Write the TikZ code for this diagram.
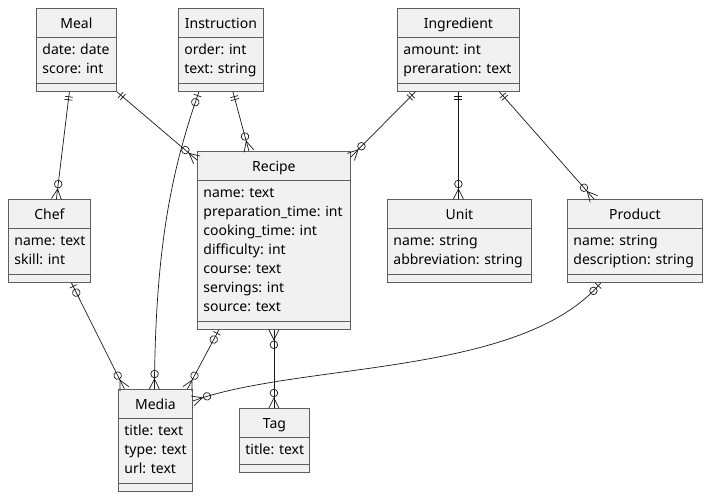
\documentclass[tikz,border=0pt]{standalone}
\usepackage{fontspec}
\setmainfont{Noto Sans}
\usetikzlibrary{matrix, decorations.markings}
\definecolor{boxfill}{HTML}{F1F1F1}
\definecolor{boxline}{HTML}{5E5E5E}
\definecolor{linkcol}{HTML}{181818}
\newcommand{\fields}[1]{\begin{tabular}{@{}l@{}}#1\end{tabular}}
\frenchspacing
\tikzset{
  entity/.style={
    matrix of nodes,
    inner sep=0pt, outer sep=0pt,
    line width=0.8pt,
    row sep=-0.8pt,
    anchor=north west,
    nodes={draw=boxline, fill=boxfill, line width=0.8pt, anchor=center,
      text width=#1, inner xsep=6pt, inner ysep=4pt,
      font=\fontsize{14}{19}\selectfont\frenchspacing},
    row 1/.style={nodes={align=center, text height=16pt, text depth=5pt}},
    row 2/.style={nodes={align=left}},
    row 3/.style={nodes={text height=0pt, text depth=0pt}},
    nodes in empty cells,
  },
  link/.style={draw=linkcol, line width=0.7pt},
  % crow's foot ends
  onestart/.style={postaction={decorate, decoration={markings,
    mark=at position 5pt with {\draw[link] (0pt,-4pt) -- (0pt,4pt);},
    mark=at position 8pt with {\draw[link] (0pt,-4pt) -- (0pt,4pt);}}}},
  zeroonestart/.style={postaction={decorate, decoration={markings,
    mark=at position 4pt with {\draw[link] (0pt,-4pt) -- (0pt,4pt);},
    mark=at position 11pt with {\draw[link] (0pt,0pt) circle[radius=3.8pt];}}}},
  manystart/.style={postaction={decorate, decoration={markings,
    mark=at position 10pt with {\draw[link] (-10pt,-5pt) -- (0pt,0pt) -- (-10pt,5pt);},
    mark=at position 15pt with {\draw[link] (0pt,0pt) circle[radius=3.8pt];}}}},
  manyend/.style={postaction={decorate, decoration={markings,
    mark=at position -15pt with {\draw[link] (0pt,0pt) circle[radius=3.8pt];},
    mark=at position -10pt with {\draw[link] (10pt,-5pt) -- (0pt,0pt) -- (10pt,5pt);}}}},
}

\begin{document}
\begin{tikzpicture}[x=1pt, y=-1pt]
  \useasboundingbox (0,0) rectangle (708,497);

  % entities
  \matrix (meal) [entity=68pt] at (36,8) {
    Meal \\ \fields{date: date\\ score: int} \\ \\
  };
  \matrix (instruction) [entity=73pt] at (178,8) {
    Instruction \\ \fields{order: int\\ text: string} \\ \\
  };
  \matrix (ingredient) [entity=110pt] at (397,8) {
    Ingredient \\ \fields{amount: int\\ preraration: text} \\ \\
  };
  \matrix (chef) [entity=70pt] at (8,199) {
    Chef \\ \fields{name: text\\ skill: int} \\ \\
  };
  \matrix (recipe) [entity=141pt] at (197,151) {
    Recipe \\ \fields{name: text\\ preparation\_time: int\\ cooking\_time: int\\
      difficulty: int\\ course: text\\ servings: int\\ source: text} \\ \\
  };
  \matrix (unit) [entity=132pt] at (387,199) {
    Unit \\ \fields{name: string\\ abbreviation: string} \\ \\
  };
  \matrix (product) [entity=123pt] at (567,199) {
    Product \\ \fields{name: string\\ description: string} \\ \\
  };
  \matrix (media) [entity=62pt] at (118,389) {
    Media \\ \fields{title: text\\ type: text\\ url: text} \\ \\
  };
  \matrix (tag) [entity=58pt] at (239,408) {
    Tag \\ \fields{title: text} \\ \\
  };

  % relations
  \draw[link, onestart, manyend] ([xshift=-7pt]meal.south) -- ([xshift=7pt]chef.north);
  \draw[link, onestart, manyend] (meal.south east) -- ([yshift=-9pt]recipe.north west);
  \draw[link, zeroonestart, manyend] ([xshift=-22pt]instruction.south)
    .. controls +(-28,80) and +(1,-140) .. ([xshift=-1pt]media.north);
  \draw[link, onestart, manyend] ([xshift=12pt]instruction.south) -- ([xshift=-25pt]recipe.north);
  \draw[link, onestart, manyend] ([xshift=-43pt]ingredient.south) -- ([yshift=-6pt]recipe.north east);
  \draw[link, onestart, manyend] (ingredient.south) -- (ingredient.south |- unit.north);
  \draw[link, onestart, manyend] ([xshift=41pt]ingredient.south) -- ([xshift=-41pt]product.north);
  \draw[link, zeroonestart, manyend] ([xshift=22pt]chef.south) -- ([xshift=-31pt]media.north);
  \draw[link, zeroonestart, manyend] ([xshift=-55pt]recipe.south) -- ([xshift=32pt]media.north);
  \draw[link, manystart, manyend] (recipe.south) -- (recipe.south |- tag.north);
  \draw[link, zeroonestart, manyend] ([xshift=-34pt]product.south)
    .. controls +(-80,94) and +(108,-39) .. ([yshift=-12pt]media.north east);
\end{tikzpicture}
\end{document}
